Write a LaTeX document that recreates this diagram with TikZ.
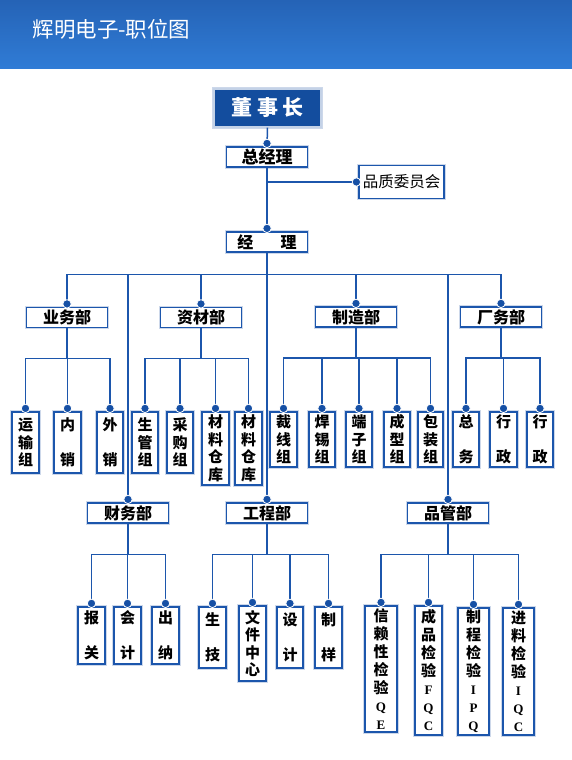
\documentclass[tikz,border=0pt]{standalone}
\usepackage{fontspec}
\setmainfont{Liberation Serif}
\newfontfamily\cjk{Noto Sans CJK SC}
\definecolor{linec}{RGB}{28,86,172}
\definecolor{dotc}{RGB}{22,80,165}
\definecolor{bossc}{RGB}{19,77,158}
\definecolor{hdtop}{RGB}{37,99,182}
\definecolor{hdbot}{RGB}{48,124,214}
\definecolor{halo}{RGB}{205,216,234}
\newcommand\ltr[1]{{\rmfamily\bfseries\fontsize{13}{18}\selectfont #1}}
\tikzset{every node/.style={font=\cjk},
  post/.style={draw=linec,line width=1.2pt,fill=white,inner sep=0pt,preaction={draw=halo,line width=3.5pt}},
  dept/.style={post,minimum width=81pt,minimum height=20pt,font=\cjk\bfseries\fontsize{16}{16}\selectfont},
  unit/.style={post,align=center,font=\cjk\bfseries\fontsize{15}{17.5}\selectfont},
  qcunit/.style={unit,font=\cjk\bfseries\fontsize{15}{18}\selectfont},
  boss/.style={draw=white!75!bossc,line width=1.2pt,fill=bossc,text=white,preaction={draw=halo,line width=4pt},
    minimum width=107pt,minimum height=38pt,font=\cjk\bfseries\fontsize{21}{21}\selectfont},
  link/.style={draw=linec,line width=1.5pt},
  pin/.style={fill=dotc,draw=white,line width=0.8pt}}

\begin{document}
\begin{tikzpicture}[x=1pt,y=-1pt]
    \useasboundingbox (0,0) rectangle (572,760);
    \shade[top color=hdtop,bottom color=hdbot] (0,0) rectangle (572,69);
    \node[anchor=west,text=white,font=\cjk\fontsize{21.5}{21.5}\selectfont] (title) at (29,29) {辉明电子-职位图};

    \node[boss] (dsz) at (267.5,108) {董 事 长};
    \node[dept,font=\cjk\bfseries\fontsize{17}{17}\selectfont] (zjl) at (267,157) {总经理};
    \node[post,minimum width=85pt,minimum height=33pt,font=\cjk\fontsize{15.5}{15.5}\selectfont] (pzw) at (401.5,182) {品质委员会};
    \node[dept] (jl) at (267,242) {经\hspace{1.7em}理};

    \node[dept] (ywb) at (67,317.5) {业务部};
    \node[dept] (zcb) at (201,317.5) {资材部};
    \node[dept] (zzb) at (356,317) {制造部};
    \node[dept] (cwub) at (501,317) {厂务部};
    \node[dept] (cwb) at (128,513) {财务部};
    \node[dept] (gcb) at (267,513) {工程部};
    \node[dept] (pgb) at (448,513) {品管部};

    \node[unit,minimum width=27pt,minimum height=61pt] (ysz) at (25.5,442.5) {运\\输\\组};
    \node[unit,minimum width=27pt,minimum height=61pt] (nx) at (67.5,442.5) {内\\[17.5pt]销};
    \node[unit,minimum width=26pt,minimum height=61pt] (wx) at (110,442.5) {外\\[17.5pt]销};

    \node[unit,minimum width=26pt,minimum height=61pt] (sgz) at (145,442.5) {生\\管\\组};
    \node[unit,minimum width=26pt,minimum height=61pt] (cgz) at (180,442.5) {采\\购\\组};
    \node[unit,minimum width=27pt,minimum height=73pt] (clk) at (215.5,448.5) {材\\料\\仓\\库};
    \node[unit,minimum width=27pt,minimum height=73pt] (clkb) at (248.5,448.5) {材\\料\\仓\\库};

    \node[unit,minimum width=27pt,minimum height=55pt] (cxz) at (283.5,439.5) {裁\\线\\组};
    \node[unit,minimum width=26pt,minimum height=55pt] (hxz) at (322,439.5) {焊\\锡\\组};
    \node[unit,minimum width=26pt,minimum height=55pt] (dzz) at (359,439.5) {端\\子\\组};
    \node[unit,minimum width=26pt,minimum height=55pt] (cxzb) at (397,439.5) {成\\型\\组};
    \node[unit,minimum width=25pt,minimum height=55pt] (bzz) at (430.5,439.5) {包\\装\\组};

    \node[unit,minimum width=26pt,minimum height=55pt] (zw) at (466,439.5) {总\\[17.5pt]务};
    \node[unit,minimum width=27pt,minimum height=55pt] (xz) at (503.5,439.5) {行\\[17.5pt]政};
    \node[unit,minimum width=26pt,minimum height=55pt] (xzb) at (540,439.5) {行\\[17.5pt]政};

    \node[unit,minimum width=27pt,minimum height=57pt] (bg) at (91.5,635.5) {报\\[17.5pt]关};
    \node[unit,minimum width=27pt,minimum height=57pt] (kj) at (127.5,635.5) {会\\[17.5pt]计};
    \node[unit,minimum width=27pt,minimum height=57pt] (cn) at (165.5,635.5) {出\\[17.5pt]纳};

    \node[unit,minimum width=27pt,minimum height=61pt] (sj) at (212.5,637.5) {生\\[17.5pt]技};
    \node[unit,minimum width=27pt,minimum height=75pt] (wjzx) at (252.5,643.5) {文\\件\\中\\心};
    \node[unit,minimum width=26pt,minimum height=61pt] (shj) at (290,637.5) {设\\[17.5pt]计};
    \node[unit,minimum width=27pt,minimum height=61pt] (zy) at (328.5,637.5) {制\\[17.5pt]样};

    \node[qcunit,minimum width=32pt,minimum height=126pt] (qe) at (381,669) {信\\赖\\性\\检\\验\\\ltr{Q}\\\ltr{E}};
    \node[qcunit,minimum width=27pt,minimum height=129pt] (fqc) at (428.5,670.5) {成\\品\\检\\验\\\ltr{F}\\\ltr{Q}\\\ltr{C}};
    \node[qcunit,minimum width=31pt,minimum height=127pt] (ipq) at (473.5,671.5) {制\\程\\检\\验\\\ltr{I}\\\ltr{P}\\\ltr{Q}};
    \node[qcunit,minimum width=31pt,minimum height=127pt] (iqc) at (518.5,671.5) {进\\料\\检\\验\\\ltr{I}\\\ltr{Q}\\\ltr{C}};

    \path[link] (dsz.south) -- (zjl.north);
    \path[link] (zjl.south) -- (jl.north);
    \path[link] (zjl.south |- pzw.west) -- (pzw.west);
    \path[link] (jl.south) -- (gcb.north);
    \foreach \d in {ywb,cwb,zcb,zzb,pgb,cwub}{
        \path[link] (jl.south) -- ++(0,22) -| (\d.north);
    }
    \foreach \p/\c in {ywb/ysz,ywb/nx,ywb/wx,zcb/sgz,zcb/cgz,zcb/clk,zcb/clkb,
        zzb/cxz,zzb/hxz,zzb/dzz,zzb/cxzb,zzb/bzz,cwub/zw,cwub/xz,cwub/xzb}{
        \path[link] (\p.south) -- ++(0,30.5) -| (\c.north);
    }
    \foreach \p/\c in {cwb/bg,cwb/kj,cwb/cn,gcb/sj,gcb/wjzx,gcb/shj,gcb/zy,
        pgb/qe,pgb/fqc,pgb/ipq,pgb/iqc}{
        \path[link] (\p.south) -- ++(0,31) -| (\c.north);
    }

    \foreach \n in {zjl,jl,ywb,zcb,zzb,cwub,cwb,gcb,pgb,ysz,nx,wx,sgz,cgz,clk,clkb,
        cxz,hxz,dzz,cxzb,bzz,zw,xz,xzb,bg,kj,cn,sj,wjzx,shj,zy,qe,fqc,ipq,iqc}{
        \fill[pin] ([yshift=3pt]\n.north) circle (4.2pt);
    }
    \fill[pin] ([xshift=-2pt]pzw.west) circle (4.2pt);
\end{tikzpicture}
\end{document}
